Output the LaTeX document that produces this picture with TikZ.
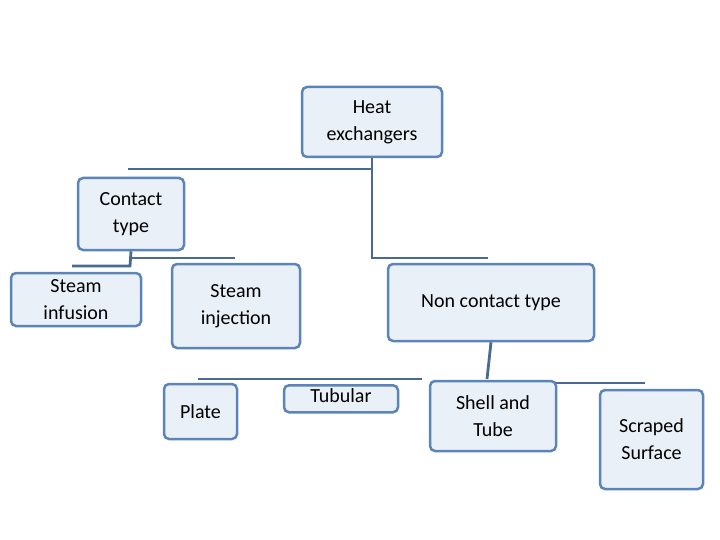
\documentclass[tikz,border=0pt]{standalone}
\usepackage{fontspec}
\setmainfont{Carlito}
\begin{document}
\begin{tikzpicture}[x=1pt,y=-1pt,
 box/.style={draw=boxb,fill=boxf,line width=2.5pt,rounded corners=5pt,align=center,font=\fontsize{20}{27}\selectfont},
 con/.style={draw=conc,line width=2.8pt}]
\definecolor{boxb}{HTML}{5B84B8}
\definecolor{boxf}{HTML}{EAF0F8}
\definecolor{conc}{HTML}{4A6A90}
\useasboundingbox (0,0) rectangle (720,540);
\newcommand{\bx}[6]{\node[box,minimum width=#4-#2,minimum height=#5-#3,inner sep=0pt] (#1) at ({(#2+#4)/2},{(#3+#5)/2}) {#6};}
\bx{heat}{302}{87}{442}{157}{Heat\\exchangers}
\bx{contact}{78}{178}{184}{250}{Contact\\type}
\bx{inf}{11}{273}{141}{326}{Steam\\infusion}
\bx{inj}{172}{264}{300}{348}{Steam\\injection}
\bx{non}{388}{264}{594}{341}{Non contact type}
\bx{plate}{164}{384}{237}{439}{Plate}
\node[box,minimum width=114,minimum height=27,inner sep=0pt,anchor=north] (tub) at (341,384) {\raisebox{6pt}{Tubular}};
\bx{shell}{430}{381}{556}{451}{Shell and\\Tube}
\bx{scr}{600}{390}{703}{489}{Scraped\\Surface}
\coordinate (a1) at (128,169); \coordinate (a2) at (488,258);
\coordinate (b1) at (235,258); \coordinate (b2) at (72,266);
\coordinate (c1) at (198,379); \coordinate (c2) at (422,379); \coordinate (c3) at (645,383);
\draw[con] (heat.south) -- (372,258) -- (a2);
\draw[con] (a1) -- (372,169);
\draw[con] (contact.south) -- (130,266) -- (b2);
\draw[con] (130,258) -- (b1);
\draw[con] (non.south) -- (487,379);
\draw[con] (c1) -- (c2);
\draw[con] (556,383) -- (c3);
\end{tikzpicture}
\end{document}
